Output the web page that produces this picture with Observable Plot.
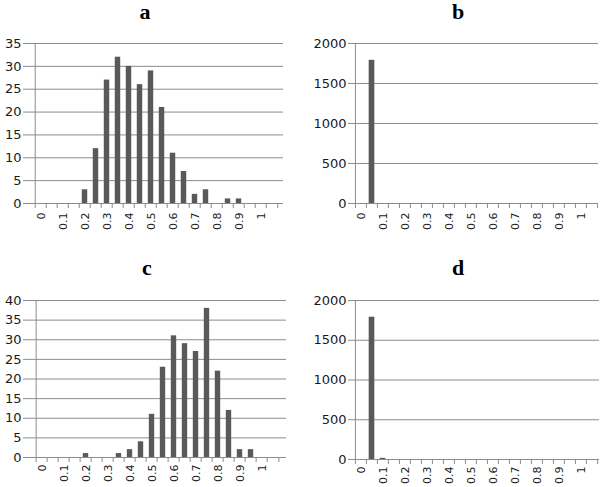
<!DOCTYPE html>
<html><head><meta charset="utf-8">
<script src="https://cdn.jsdelivr.net/npm/d3@7"></script>
<script src="https://cdn.jsdelivr.net/npm/@observablehq/plot@0.6"></script>
<style>
html,body{margin:0;padding:0;background:#fff;}
#wrap{position:relative;width:600px;height:487px;overflow:hidden;background:#fff;}
.panel{position:absolute;}
#titles{position:absolute;left:0;top:0;}
</style></head><body><div id="wrap"></div>
<script>
// Bin categories (22 bins, step 0.05)
const bins = ["0","0.05","0.1","0.15","0.2","0.25","0.3","0.35","0.4","0.45","0.5","0.55","0.6","0.65","0.7","0.75","0.8","0.85","0.9","0.95","1","1.05"];
// Labelled ticks
const tickLabels = ["0","0.1","0.2","0.3","0.4","0.5","0.6","0.7","0.8","0.9","1"];
// Panel titles
const panelTitles = ["a","b","c","d"];
// Series values per panel
const countsA = [0,0,0,0,3,12,27,32,30,26,29,21,11,7,2,3,0,1,1,0,0,0];
const countsB = [0,1790,0,0,0,0,0,0,0,0,0,0,0,0,0,0,0,0,0,0,0,0];
const countsC = [0,0,0,0,1,0,0,1,2,4,11,23,31,29,27,38,22,12,2,2,0,0];
const countsD = [0,1790,15,0,0,0,0,0,0,0,0,0,0,0,0,0,0,0,0,0,0,0];
// Y axis ticks per panel
const yTicksA = [0,5,10,15,20,25,30,35];
const yTicksB = [0,500,1000,1500,2000];
const yTicksC = [0,5,10,15,20,25,30,35,40];
const yTicksD = [0,500,1000,1500,2000];

const GRID = "#8c8c8c", BAR = "#595959", TEXT = "#1a1a1a";
const wrap = document.getElementById("wrap");

function panel(values, yTicks, box) {
  const {left, top, width, height, ml, mr, mt, mb, pad} = box;
  const data = bins.map((b, i) => ({bin: b, v: values[i]}));
  const bw = (width - ml - mr) / bins.length;
  const yMax = yTicks[yTicks.length - 1];
  const svg = Plot.plot({
    width, height,
    marginLeft: ml, marginRight: mr, marginTop: mt, marginBottom: mb,
    style: {fontFamily: "'DejaVu Sans', Verdana, sans-serif", fontSize: "12px", color: TEXT, background: "transparent", overflow: "visible"},
    x: {type: "band", domain: bins, padding: 0, label: null},
    y: {domain: [0, yMax], label: null},
    marks: [
      Plot.gridY(yTicks, {stroke: GRID, strokeOpacity: 1, strokeWidth: 1}),
      Plot.ruleX([bins[0]], {y1: 0, y2: yMax, dx: -bw / 2, stroke: GRID, strokeWidth: 1}),
      Plot.barY(data, {x: "bin", y: "v", fill: BAR, insetLeft: bw * 0.24, insetRight: bw * 0.24}),
      Plot.ruleY([0], {stroke: GRID, strokeWidth: 1}),
      Plot.ruleX(bins, {x: d => d, y1: 0, y2: 0, insetBottom: -5, dx: -bw / 2, stroke: GRID}),
      Plot.ruleX([bins[bins.length - 1]], {x: d => d, y1: 0, y2: 0, insetBottom: -5, dx: bw / 2, stroke: GRID}),
      Plot.axisY(yTicks, {tickSize: 5, tickPadding: 2, stroke: GRID, fill: TEXT, fontSize: 13, tickFormat: d => String(d), style: {letterSpacing: "0.8px"}}),
      Plot.axisX(tickLabels, {tickSize: 0, tickPadding: pad, tickRotate: -90, fill: TEXT, fontSize: 11})
    ]
  });
  svg.classList.add("panel");
  svg.style.left = left + "px";
  svg.style.top = top + "px";
  wrap.appendChild(svg);
}

panel(countsA, yTicksA, {left: 0, top: 0, width: 300, height: 243, ml: 28, mr: 17, mt: 43, mb: 40, pad: 9});
panel(countsB, yTicksB, {left: 300, top: 0, width: 300, height: 243, ml: 53, mr: 2, mt: 43, mb: 40, pad: 9});
panel(countsC, yTicksC, {left: 0, top: 243, width: 300, height: 244, ml: 28, mr: 14, mt: 57, mb: 30, pad: 7});
panel(countsD, yTicksD, {left: 300, top: 243, width: 300, height: 244, ml: 53, mr: 1, mt: 57, mb: 28, pad: 7});

// Titles
const ns = "http://www.w3.org/2000/svg";
const tsvg = document.createElementNS(ns, "svg");
tsvg.setAttribute("width", 600); tsvg.setAttribute("height", 487);
tsvg.id = "titles";
const tpos = [[145, 19], [458, 19], [147, 274.5], [458, 274.5]];
panelTitles.forEach((t, i) => {
  const el = document.createElementNS(ns, "text");
  el.setAttribute("x", tpos[i][0]); el.setAttribute("y", tpos[i][1]);
  el.setAttribute("text-anchor", "middle");
  el.setAttribute("font-family", "'Liberation Serif', 'DejaVu Serif', serif");
  el.setAttribute("font-weight", "bold");
  el.setAttribute("font-size", "22");
  el.setAttribute("fill", "#000");
  el.textContent = t;
  tsvg.appendChild(el);
});
wrap.appendChild(tsvg);
</script>
</body></html>
